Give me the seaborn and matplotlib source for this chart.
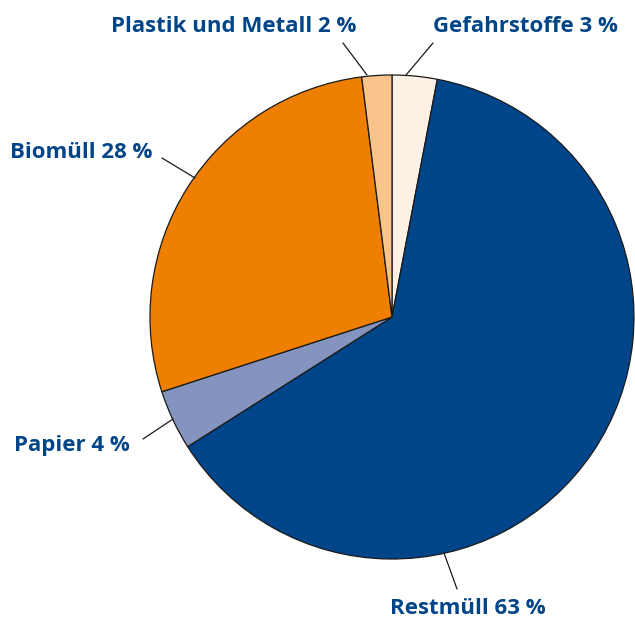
import matplotlib.pyplot as plt
import seaborn as sns

# Anteile der Abfallarten (im Uhrzeigersinn ab 12 Uhr)
kategorien = ["Gefahrstoffe", "Restmüll", "Papier", "Biomüll", "Plastik und Metall"]
anteile = [3, 63, 4, 28, 2]
farben = ["#FDF1E6", "#00458A", "#8494BF", "#EE7F00", "#F8C48C"]

sns.set_theme(style="white")
plt.rcParams['font.family'] = ['Open Sans', 'DejaVu Sans']

fig = plt.figure(figsize=(6.35, 6.24), dpi=100)
ax = fig.add_axes([0, 0, 1, 1])
H = 624

ax.pie(anteile, colors=farben, startangle=90, counterclock=False,
       center=(392, H - 317), radius=242,
       wedgeprops=dict(edgecolor="#1a1a1a", linewidth=0.9))

# Beschriftungen mit Hinweislinien (Pixelpositionen)
labels = [
    ("Gefahrstoffe 3 %", (525, 26), ((406, 75), (433, 43))),
    ("Restmüll 63 %", (468, 609), ((444, 553), (457, 589))),
    ("Papier 4 %", (72, 446), ((173, 419), (143, 439))),
    ("Biomüll 28 %", (81, 152), ((195, 178), (162, 158))),
    ("Plastik und Metall 2 %", (234, 26), ((367, 75), (343, 43))),
]
for name, (tx, ty), ((x1, y1), (x2, y2)) in labels:
    ax.plot([x1, x2], [H - y1, H - y2], color="#1a1a1a", lw=0.9)
    ax.text(tx, H - ty, name, ha="center", va="center", fontsize=16,
            fontweight="bold", color="#004587")

ax.set_xlim(0, 635)
ax.set_ylim(0, H)
ax.set_aspect("equal")
ax.axis("off")
fig.savefig("out.png", dpi=100)
